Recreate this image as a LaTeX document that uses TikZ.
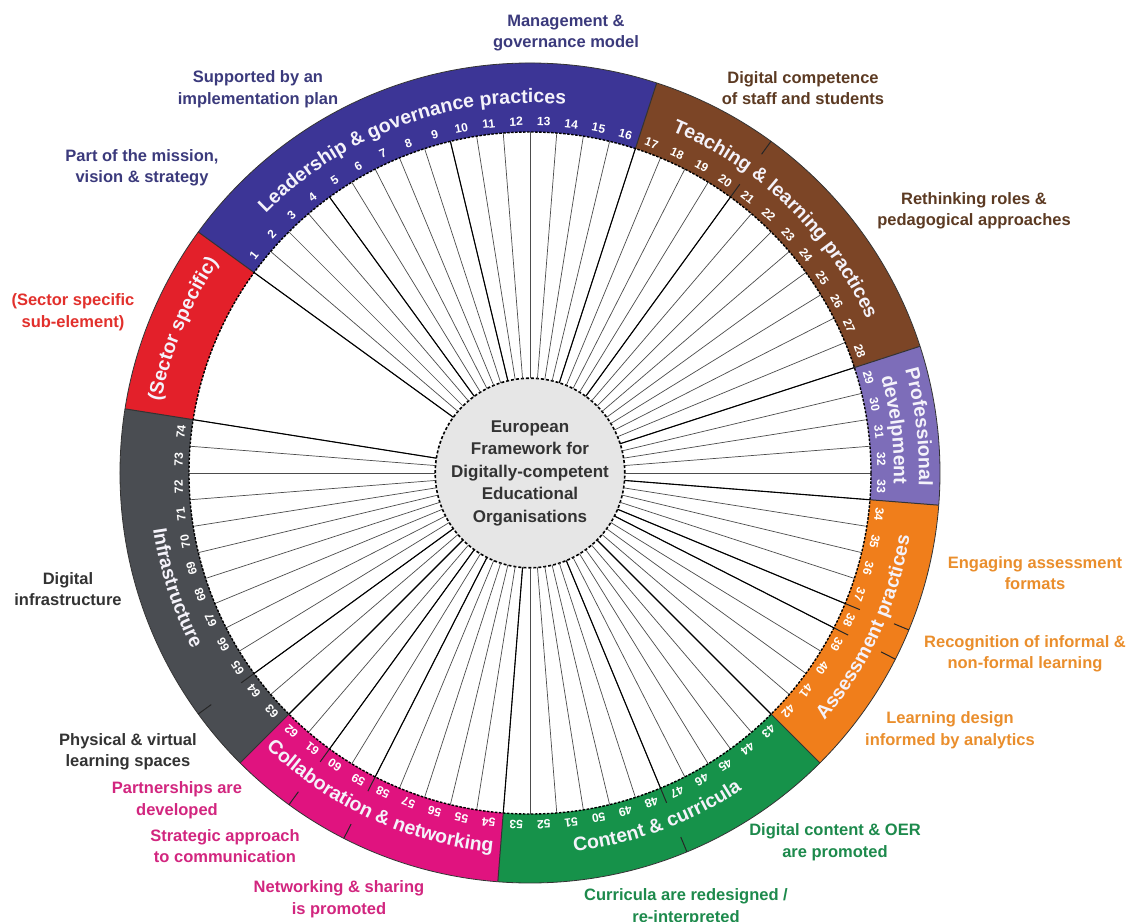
\documentclass[tikz,border=0pt]{standalone}
\usepackage{fontspec}
\setmainfont{Liberation Sans}
\usetikzlibrary{decorations.text}

\definecolor{leadblue}{HTML}{3C3596}
\definecolor{leadtxt}{HTML}{3B3A7C}
\definecolor{teachbrown}{HTML}{7C4526}
\definecolor{teachtxt}{HTML}{5C3A22}
\definecolor{profpurple}{HTML}{7D6DB9}
\definecolor{assessorange}{HTML}{F07E1B}
\definecolor{assesstxt}{HTML}{EA8E2C}
\definecolor{contentgreen}{HTML}{16924A}
\definecolor{contenttxt}{HTML}{1D8A4C}
\definecolor{collabpink}{HTML}{E0137F}
\definecolor{collabtxt}{HTML}{D2267F}
\definecolor{infragray}{HTML}{4A4D52}
\definecolor{infratxt}{HTML}{333333}
\definecolor{sectorred}{HTML}{E3202A}
\definecolor{sectortxt}{HTML}{E2302C}
\definecolor{hubfill}{HTML}{E6E6E6}
\definecolor{ringtxt}{HTML}{F4F2FA}

\newcommand{\ringfont}{\bfseries\fontsize{19.5}{19.5}\selectfont}
\newcommand{\ringseg}[3]{\fill[#1] (#2:341) arc[start angle=#2, end angle=#3, radius=341] -- (#3:410) arc[start angle=#3, end angle=#2, radius=410] -- cycle;}

\begin{document}
\begin{tikzpicture}[x=1pt,y=1pt,
  hub/.style={circle, minimum size=170, inner sep=0, outer sep=0, fill=hubfill, draw=black,
    line width=1.6, dash pattern=on 3 off 2, align=center, text=black!80,
    font=\bfseries\fontsize{17}{22.5}\selectfont},
  spoke/.style={draw=black!70, line width=0.7},
  spokestrong/.style={draw=black, line width=1.1},
  segline/.style={draw=black!80, line width=1},
  subtick/.style={draw=black!85, line width=1},
  numlbl/.style={text=white, inner sep=0, font=\bfseries\fontsize{12}{12}\selectfont},
  sublbl/.style={align=center, inner sep=0, font=\bfseries\fontsize{16.5}{21.5}\selectfont},
  ringtitle/.style={decorate, decoration={text along path, text align=center, text color=ringtxt, text={|\ringfont|#1}}}]
%\draw [help lines,black!20!white] (-530,-448) grid[step=50] (601,473);
\fill[white] (-530,-448) rectangle (601,473);
\useasboundingbox (-530,-448) rectangle (601,473);

% ring segments
\ringseg{sectorred}{144}{171}
\ringseg{leadblue}{72}{144}
\ringseg{teachbrown}{18}{72}
\ringseg{profpurple}{-4.5}{18}
\ringseg{assessorange}{-45}{-4.5}
\ringseg{contentgreen}{-94.5}{-45}
\ringseg{collabpink}{-135}{-94.5}
\ringseg{infragray}{171}{225}

\draw[black!80, line width=0.8] (0,0) circle[radius=410];
\foreach \a in {144,171,72,18,-4.5,-45,-94.5,-135}
  \draw[segline] (\a:341) -- (\a:410);
\foreach \a in {54,-22.5,-27,-67.5,-117,-126,-144}{
  \draw[subtick] (\a:341) -- (\a:357);
  \draw[subtick] (\a:394) -- (\a:410);
}

\node[hub] (hub) at (0,0) {European\\Framework for\\Digitally-competent\\Educational\\Organisations};

% spokes
\foreach \j in {0,...,74}{
  \pgfmathsetmacro\ang{144-4.5*\j}
  \coordinate (s\j) at (\ang:341);
  \draw[spoke] (s\j) -- (hub);
}
\foreach \j in {0,4,9,16,20,28,33,37,38,42,47,53,58,60,62,64,74}
  \draw[spokestrong] (s\j) -- (hub);
\draw[black, line width=1.4, dash pattern=on 2.5 off 1.5] (0,0) circle[radius=341];

% numbers
\foreach \k in {1,...,74}{
  \pgfmathsetmacro\ang{146.25-4.5*\k}
  \pgfmathsetmacro\rot{\ang-90}
  \node[numlbl, rotate=\rot] (n\k) at (\ang:351.5) {\k};
}

% ring titles
\path[ringtitle={Leadership {\&} governance practices}] (150:370) arc[start angle=150, end angle=70, radius=370];
\path[ringtitle={Teaching {\&} learning practices}] (90:370) arc[start angle=90, end angle=2, radius=370];
\path[ringtitle={Professional}] (45:389) arc[start angle=45, end angle=-31.5, radius=389];
\path[ringtitle={develpment}] (45:364) arc[start angle=45, end angle=-31.5, radius=364];
\path[ringtitle={Assessment practices}] (-80:385) arc[start angle=-80, end angle=30.5, radius=385];
\path[ringtitle={Content {\&} curricula}] (-125:381) arc[start angle=-125, end angle=-14.5, radius=381];
\path[ringtitle={Collaboration {\&} networking}] (-170:381) arc[start angle=-170, end angle=-59.5, radius=381];
\path[ringtitle={Infrastructure}] (143:381) arc[start angle=143, end angle=253, radius=381];
\path[ringtitle={(Sector specific)}] (200:376) arc[start angle=200, end angle=115, radius=376];

% sub-element labels
\node[sublbl, text=leadtxt] (mgmt) at (36,440) {Management \&\\governance model};
\node[sublbl, text=leadtxt] (plan) at (-272,384) {Supported by an\\implementation plan};
\node[sublbl, text=leadtxt] (mission) at (-388,305) {Part of the mission,\\vision \& strategy};
\node[sublbl, text=sectortxt] (sector) at (-457,161) {(Sector specific\\sub-element)};
\node[sublbl, text=infratxt] (diginfra) at (-462,-116) {Digital\\infrastructure};
\node[sublbl, text=infratxt] (spaces) at (-402,-279) {Physical \& virtual\\learning spaces};
\node[sublbl, text=collabtxt] (partner) at (-353,-327) {Partnerships are\\developed};
\node[sublbl, text=collabtxt] (comm) at (-305,-373) {Strategic approach\\to communication};
\node[sublbl, text=collabtxt] (sharing) at (-191,-426) {Networking \& sharing\\is promoted};
\node[sublbl, text=contenttxt] (curric) at (156,-434) {Curricula are redesigned /\\re-interpreted};
\node[sublbl, text=contenttxt] (oer) at (305,-369) {Digital content \& OER\\are promoted};
\node[sublbl, text=assesstxt] (analytics) at (420,-257) {Learning design\\informed by analytics};
\node[sublbl, text=assesstxt] (recog) at (495,-181) {Recognition of informal \&\\non-formal learning};
\node[sublbl, text=assesstxt] (formats) at (505,-100) {Engaging assessment\\formats};
\node[sublbl, text=teachtxt] (roles) at (444,262) {Rethinking roles \&\\pedagogical approaches};
\node[sublbl, text=teachtxt] (staff) at (273,385) {Digital competence\\of staff and students};

\end{tikzpicture}
\end{document}
